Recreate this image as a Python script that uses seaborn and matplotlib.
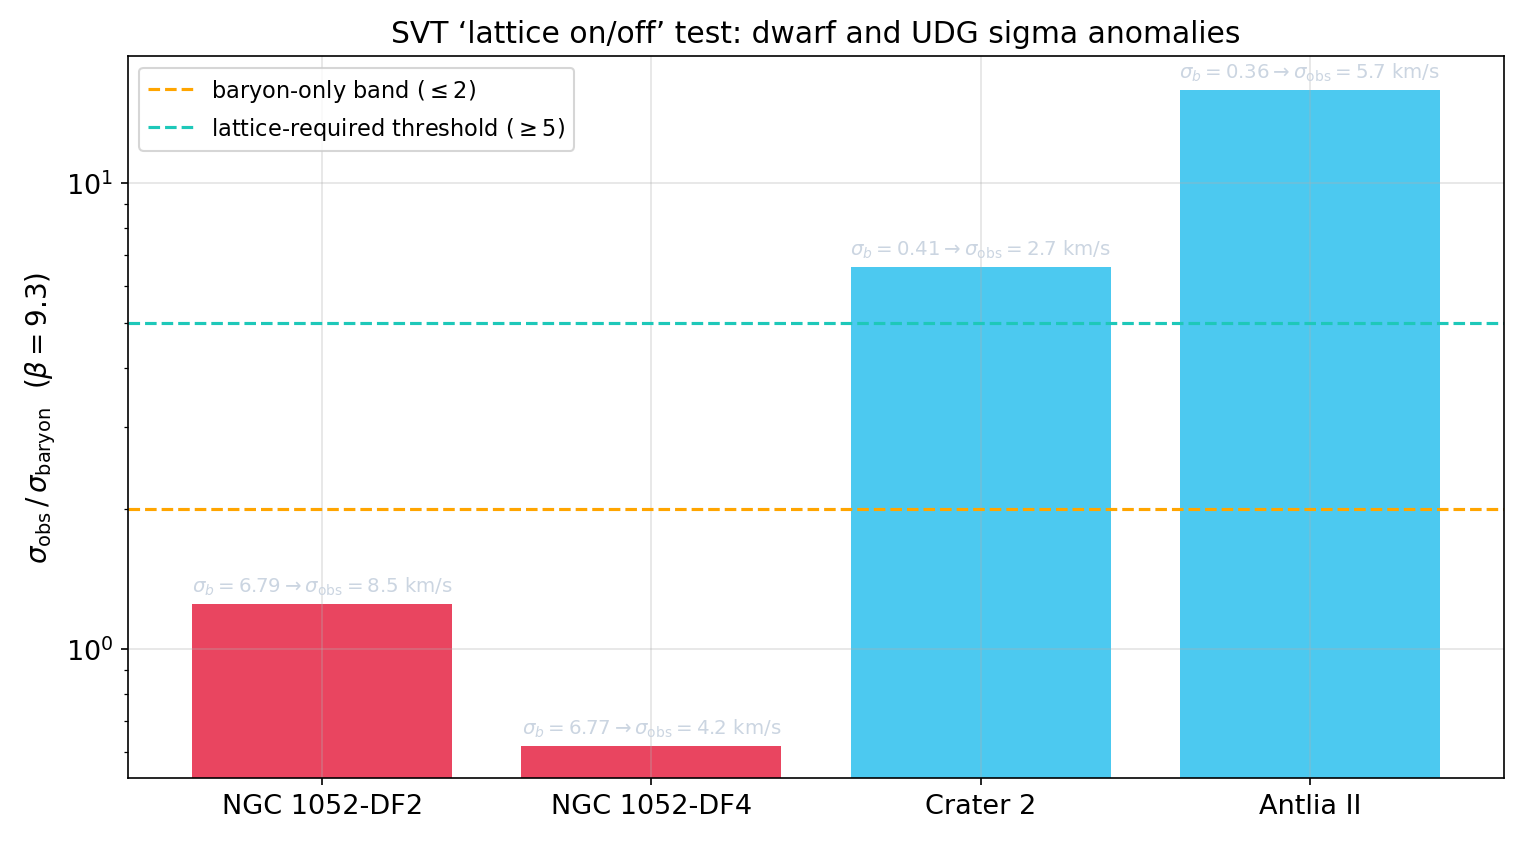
import matplotlib
matplotlib.use("Agg")
import matplotlib.pyplot as plt
import seaborn as sns
import pandas as pd

names = ["NGC 1052-DF2", "NGC 1052-DF4", "Crater 2", "Antlia II"]
sigma_b = [6.79, 6.77, 0.41, 0.36]
sigma_obs = [8.5, 4.2, 2.7, 5.7]
ratio = [1.252, 0.620, 6.59, 15.8]
kind = ["UDG", "UDG", "dwarf", "dwarf"]

df = pd.DataFrame({"name": names, "ratio": ratio, "kind": kind})

plt.rcParams['font.family'] = ['DejaVu Sans']

fig = plt.figure(figsize=(10.14, 5.613), dpi=150)
ax = fig.add_axes([0.0842, 0.0745, 0.9046, 0.8575])
ax.set_yscale('log')
sns.barplot(data=df, x="name", y="ratio", hue="kind",
            palette={"UDG": "#e94560", "dwarf": "#4cc9f0"},
            width=0.79, dodge=False, legend=False, ax=ax, saturation=1)

ax.axhline(2, color="#ffa500", ls="--", lw=1.5, label=r"baryon-only band ($\leq 2$)")
ax.axhline(5, color="#1ec8b9", ls="--", lw=1.5, label=r"lattice-required threshold ($\geq 5$)")

for i, (sb, so, r) in enumerate(zip(sigma_b, sigma_obs, ratio)):
    ax.text(i, r * 1.035, rf"$\sigma_b = {sb:.2f} \rightarrow \sigma_{{\rm obs}} = {so}$ km/s",
            ha="center", va="bottom", fontsize=9.5, color="#cbd5e1")

ax.set_xlim(-0.59, 3.59)
ax.set_ylim(0.528, 18.7)
ax.set_xlabel("")
ax.set_ylabel(r"$\sigma_{\rm obs}\,/\,\sigma_{\rm baryon}$  $(\beta = 9.3)$", fontsize=13.3)
ax.set_title("SVT \u2018lattice on/off\u2019 test: dwarf and UDG sigma anomalies", fontsize=14.3, pad=7)
ax.tick_params(axis='both', labelsize=13)
ax.grid(True, which='major', color="#b0b0b0", alpha=0.35, lw=0.8)
ax.legend(loc="upper left", fontsize=10.8, framealpha=0.8)

fig.savefig("out.png", dpi=150)
